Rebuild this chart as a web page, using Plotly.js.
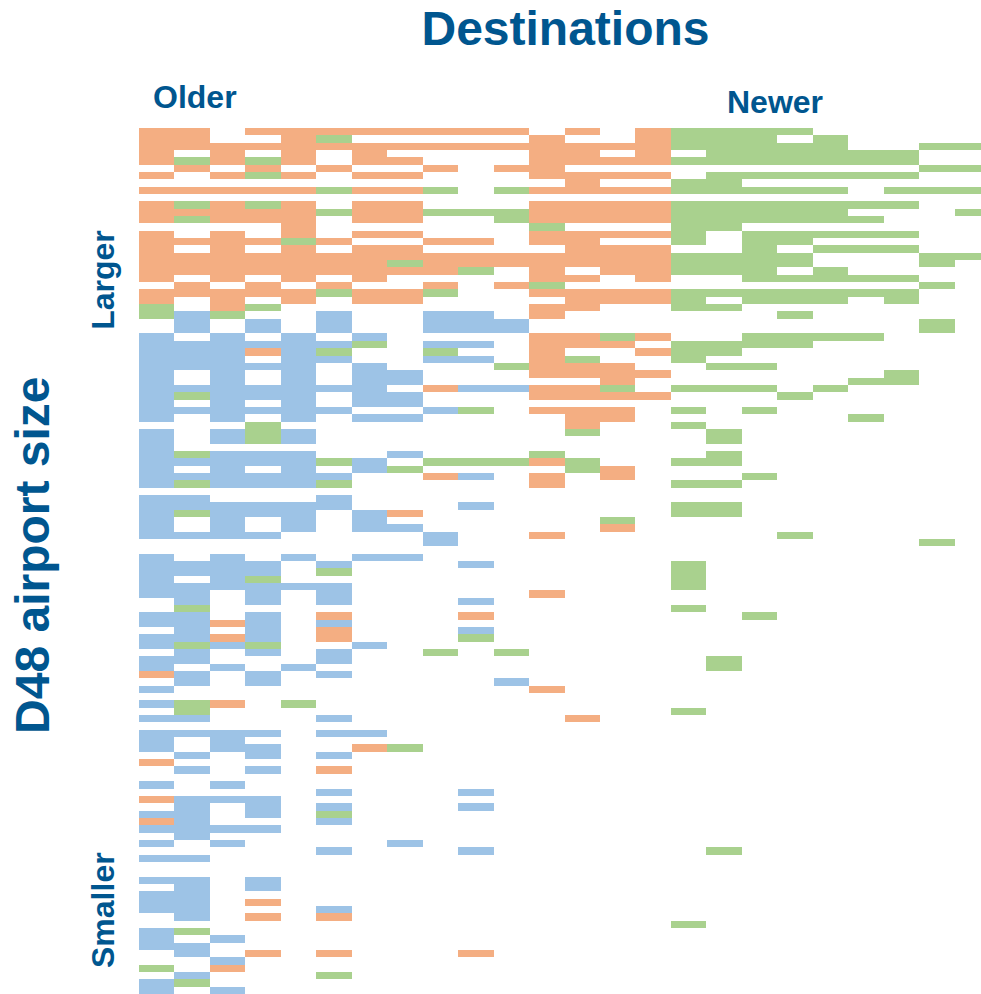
<!DOCTYPE html>
<html>
<head>
<meta charset="utf-8">
<script src="https://cdn.plot.ly/plotly-3.0.1.min.js"></script>
<style>html,body{margin:0;padding:0;background:#fff}#chart{width:981px;height:994px}</style>
</head>
<body>
<div id="chart"></div>
<script>
// Each letter is one cell: O = orange, G = green, B = blue, . = no route
const cellCodes = ['O', 'G', 'B'];
const cellColors = ['#F4AE82', '#A9D18E', '#9DC3E6'];
const titleText = 'Destinations';
const olderLabel = 'Older';
const newerLabel = 'Newer';
const largerLabel = 'Larger';
const smallerLabel = 'Smaller';
const airportSizeLabel = 'D48 airport size';
const textColor = '#00568F';

const rowsLarge = [
'OO.OOOOOOOO.O.O'+'GGGG.....',
'OO..OG.....O..O'+'GGG.G....',
'OOOOOOOOOOOOOOO'+'GGGGG..GG',
'O.O.O.O....OO.O'+'.GGGGGG..',
'OGOGO.OO...OOOO'+'GGGGGGG..',
'.O.O.O..O.OO...'+'.......GG',
'O.OGO.OO...OOOO'+'.GGGGGG..',
'............O..'+'GG.......',
'OOOOOGOOG.GOOOO'+'GGGGG.GGG',
'...............'+'.........',
'OGOGO.OO...OOOO'+'GGGGGGG..',
'OOOOOGOOGGGOOOO'+'GGGGG...G',
'OGOOO.OO..GOOOO'+'GGGGGG...',
'....O......G...'+'GG.......',
'O.O.O.OO...OOOO'+'G.GGGGG..',
'OOOOGO..OO.OO..'+'G.GG.....',
'O.O.O.OO....OOO'+'..G.GGG..',
'OOOOOOOOOOOOOOO'+'GGGG...GG',
'OOOOOOOGOOOOOOO'+'GGGG...G.',
'OOOOOOOOOG.O.OO'+'GGG.G....',
'O.O.O.O....OO.O'+'..GGGGG..',
'.O.O.O..O.OG...'+'.......G.',
'OOOOOGOOG..OOOO'+'GGGGGGG..',
'O.O.O.OO....OOO'+'G.GGG.G..',
'G.OG.......OO..'+'GG.......',
'GBG..B..BB.O...'+'...G.....',
'.B.B.B..BBB....'+'.......G.',
'.B.B.B..BBB....'+'.......G.'
];
const rowsMiddle = [
'B.B.B.B....OOGO'+'..GGGG...',
'BBBBBBG.BB.OOO.'+'GGGG.....',
'BBBOBG..G..O..O'+'GG.......',
'BBB.BB..BB.OG..'+'G........',
'BBBBB.B...GOOO.'+'.GG......',
'B.B.B.BB...OOOO'+'......G..',
'B.B.B.BB.....O.'+'.....GG..',
'BBBBBBB.OBBOOG.'+'GGG.G....',
'BGBBB.BB...OOOO'+'...G.....',
'B.B.B.BB.......'+'.........',
'BBBBBB..BG.OOO.'+'G.G......',
'B.B.B.BB....OO.'+'.....G...',
'...G........O..'+'G........',
'B.BGB.......G..'+'.G.......',
'B.BGB..........'+'.G.......',
'B..............'+'.........',
'BGBBB..B...G...'+'.G.......',
'BBBBBGB.GGGOG..'+'GG.......',
'B.B.B.BG....GO.'+'.........',
'BBBBBB..OB.O.O.'+'..G......',
'BGBBBG.....O...'+'GG.......',
'...............'+'.........',
'BB...B.........'+'.........',
'BBBBBB...B.....'+'GG.......',
'BGBBB.BO.......'+'GG.......',
'B.B.B.B......G.'+'.........',
'B.B.B.BB.....O.'+'.........',
'BBBB....B..O...'+'...G.....',
'........B......'+'.......G.'
];
const rowsSmall = [
'...............'+'.........',
'B.B.B.BB.......'+'.........',
'BBBB.B...B.....'+'G........',
'BBBB.G.........'+'G........',
'B.BG...........'+'G........',
'BBBBBB.........'+'G........',
'BB.B.B.....O...'+'.........',
'.B.B.B...B.....'+'.........',
'.G.............'+'G........',
'BB.B.O...O.....'+'..G......',
'BBOB.B.........'+'.........',
'.B.B.O...B.....'+'.........',
'BBOB.O...G.....'+'.........',
'BGBG..B........'+'.........',
'.B.B.B..G.G....'+'.........',
'BB...B.........'+'.G.......',
'B.B.B..........'+'.G.......',
'OB.B.B.........'+'.........',
'.B.B......B....'+'.........',
'B..........O...'+'.........',
'...............'+'.........',
'BGO.G..........'+'.........',
'.G.............'+'G........',
'BB...B......O..'+'.........',
'...............'+'.........',
'BBBB.BB........'+'.........',
'B.B............'+'.........',
'B.BB..OG.......'+'.........',
'.B.B.B.........'+'.........',
'O..............'+'.........'
];
const rowsSmallest = [
'.B.B.O.........'+'.........',
'...............'+'.........',
'B.B............'+'.........',
'.....B...B.....'+'.........',
'OBBB...........'+'.........',
'.B.B.B...B.....'+'.........',
'BB.B.G.........'+'.........',
'OB...B.........'+'.........',
'BBBB...........'+'.........',
'.B.............'+'.........',
'B.B....B.......'+'.........',
'.....B...B.....'+'.G.......',
'BB.............'+'.........',
'...............'+'.........',
'...............'+'.........',
'BB.B...........'+'.........',
'.B.B...........'+'.........',
'BB.............'+'.........',
'BB.O...........'+'.........',
'BB...B.........'+'.........',
'.B.O.O.........'+'.........',
'...............'+'G........',
'BG.............'+'.........',
'B.B............'+'.........',
'BB.............'+'.........',
'.B.O.O...O.....'+'.........',
'..B............'+'.........',
'G.O............'+'.........',
'.B...G.........'+'.........',
'BG.............'+'.........',
'B.B............'+'.........'
];

const allRows = rowsLarge.concat(rowsMiddle, rowsSmall, rowsSmallest);
const z = allRows.map(r => r.split('').map(c => {
  const k = cellCodes.indexOf(c);
  return k < 0 ? null : k;
}));

const W = 981, H = 994, L = 138.5, T = 128.3;
const px = x => (x - L) / (W - L);
const py = y => 1 - (y - T) / (H - T);

function label(text, x, y, size, angle) {
  return {text: '<b>' + text + '</b>', xref: 'paper', yref: 'paper', x: px(x), y: py(y),
    xanchor: 'center', yanchor: 'middle', showarrow: false, textangle: angle || 0,
    font: {family: 'Liberation Sans, Arial, sans-serif', size: size, color: textColor}};
}

Plotly.newPlot('chart', [{
  type: 'heatmap', z: z, zmin: -0.5, zmax: 2.5, zsmooth: false, showscale: false, hoverinfo: 'skip',
  colorscale: [[0, cellColors[0]], [1/3, cellColors[0]], [1/3, cellColors[1]], [2/3, cellColors[1]], [2/3, cellColors[2]], [1, cellColors[2]]]
}], {
  width: W, height: H, autosize: false,
  paper_bgcolor: '#fff', plot_bgcolor: '#fff',
  margin: {l: L, r: 0, t: T, b: 0, pad: 0},
  title: {text: '<b>' + titleText + '</b>', x: 565.5 / W, xanchor: 'center', xref: 'container',
    y: 1 - 28.5 / H, yanchor: 'middle', yref: 'container',
    font: {family: 'Liberation Sans, Arial, sans-serif', size: 48, color: textColor}},
  xaxis: {visible: false, range: [-0.5, (W - L) / 35.48 - 0.5], fixedrange: true},
  yaxis: {visible: false, range: [allRows.length - 0.5, -0.5], fixedrange: true},
  annotations: [
    label(olderLabel, 194.5, 97.5, 32),
    label(newerLabel, 774.5, 102.5, 32),
    label(largerLabel, 102.5, 280, 32, -90),
    label(smallerLabel, 102.5, 910, 32, -90),
    label(airportSizeLabel, 32, 555.5, 48, -90)
  ]
}, {staticPlot: true, displayModeBar: false});
</script>
</body>
</html>
